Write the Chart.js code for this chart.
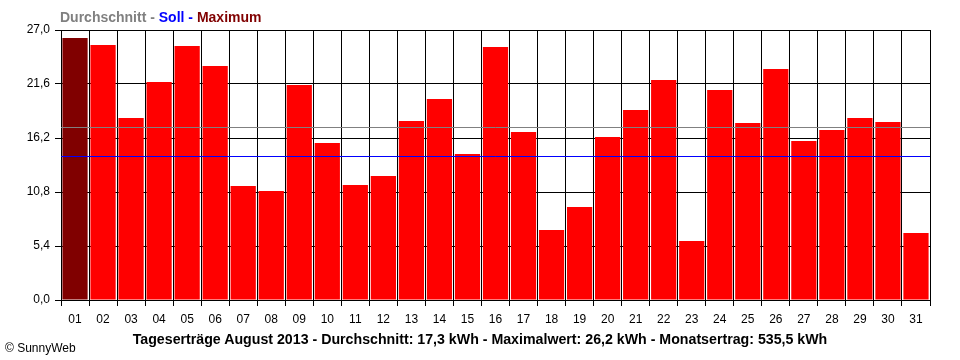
<!DOCTYPE html>
<html>
<head>
<meta charset="utf-8">
<script src="https://cdn.jsdelivr.net/npm/chart.js@4/dist/chart.umd.min.js"></script>
<style>
  html, body { margin: 0; padding: 0; background: #fff; }
  #wrap { position: relative; width: 960px; height: 360px; }
  canvas { position: absolute; left: 0; top: 0; }
  .txt { position: absolute; font-family: "Liberation Sans", Arial, sans-serif; white-space: nowrap; }
  #legend { left: 60px; top: 8px; font-size: 14px; font-weight: bold; line-height: 18px; }
  #caption { left: 0; width: 960px; text-align: center; top: 330px; font-size: 14.2px; font-weight: bold; line-height: 18px; color: #000; }
  #copy { left: 5px; top: 340px; font-size: 12px; line-height: 16px; color: #000; }
</style>
</head>
<body>
<div id="wrap">
  <canvas id="c" width="960" height="360"></canvas>
  <div id="legend" class="txt"><span style="color:#808080">Durchschnitt - </span><span style="color:#0000FF">Soll - </span><span style="color:#800000">Maximum</span></div>
  <div id="caption" class="txt">Tageserträge August 2013 - Durchschnitt: 17,3 kWh - Maximalwert: 26,2 kWh - Monatsertrag: 535,5 kWh</div>
  <div id="copy" class="txt">© SunnyWeb</div>
</div>
<script>
const days = ["01","02","03","04","05","06","07","08","09","10","11","12","13","14","15","16","17","18","19","20","21","22","23","24","25","26","27","28","29","30","31"];
const yieldKWh = [26.2,25.5,18.2,21.8,25.4,23.4,11.4,10.9,21.5,15.7,11.5,12.4,17.9,20.1,14.6,25.3,16.8,7.0,9.3,16.3,19.0,22.0,5.9,21.0,17.7,23.1,15.9,17.0,18.2,17.8,6.7];
const yTicks = [0, 5.4, 10.8, 16.2, 21.6, 27.0];
const averageKWh = 17.3;
const sollKWh = 14.4;

const maxVal = Math.max(...yieldKWh);
const barColors = yieldKWh.map(v => v === maxVal ? '#800000' : '#FF0000');

const refLines = {
  id: 'refLines',
  afterDatasetsDraw(chart) {
    const {ctx, chartArea, scales} = chart;
    const draw = (val, color) => {
      const y = Math.floor(scales.y.getPixelForValue(val)) + 0.5;
      ctx.save();
      ctx.strokeStyle = color;
      ctx.lineWidth = 1;
      ctx.beginPath();
      ctx.moveTo(chartArea.left, y);
      ctx.lineTo(chartArea.right, y);
      ctx.stroke();
      ctx.restore();
    };
    draw(averageKWh, '#808080');
    draw(sollKWh, '#0000FF');
  }
};

Chart.defaults.font.family = '"Liberation Sans", Arial, sans-serif';
Chart.defaults.color = '#000';

new Chart(document.getElementById('c'), {
  type: 'bar',
  data: {
    labels: days,
    datasets: [{
      data: yieldKWh,
      backgroundColor: barColors,
      borderWidth: 0,
      barPercentage: 0.9,
      categoryPercentage: 1.0
    }]
  },
  options: {
    responsive: false,
    animation: false,
    events: [],
    layout: { padding: { left: 0, top: 30, right: 30, bottom: 0 } },
    plugins: { legend: { display: false }, tooltip: { enabled: false }, title: { display: false } },
    scales: {
      x: {
        offset: true,
        grid: { offset: true, color: '#000', lineWidth: 1, tickLength: 6, tickColor: '#000', drawOnChartArea: true },
        border: { display: true, color: '#000', width: 1 },
        ticks: { font: { size: 12 }, color: '#000', padding: 6, maxRotation: 0, autoSkip: false },
        afterFit(scale) { scale.height = 60; }
      },
      y: {
        min: 0,
        max: 27,
        afterBuildTicks(scale) { scale.ticks = yTicks.map(v => ({ value: v })); },
        grid: { color: '#000', lineWidth: 1, tickLength: 6, tickColor: '#000' },
        border: { display: true, color: '#000', width: 1 },
        ticks: {
          font: { size: 12 }, color: '#000', padding: 5,
          callback: v => Number(v).toFixed(1).replace('.', ',')
        },
        afterFit(scale) { scale.width = 61; }
      }
    }
  },
  plugins: [refLines]
});
</script>
</body>
</html>
